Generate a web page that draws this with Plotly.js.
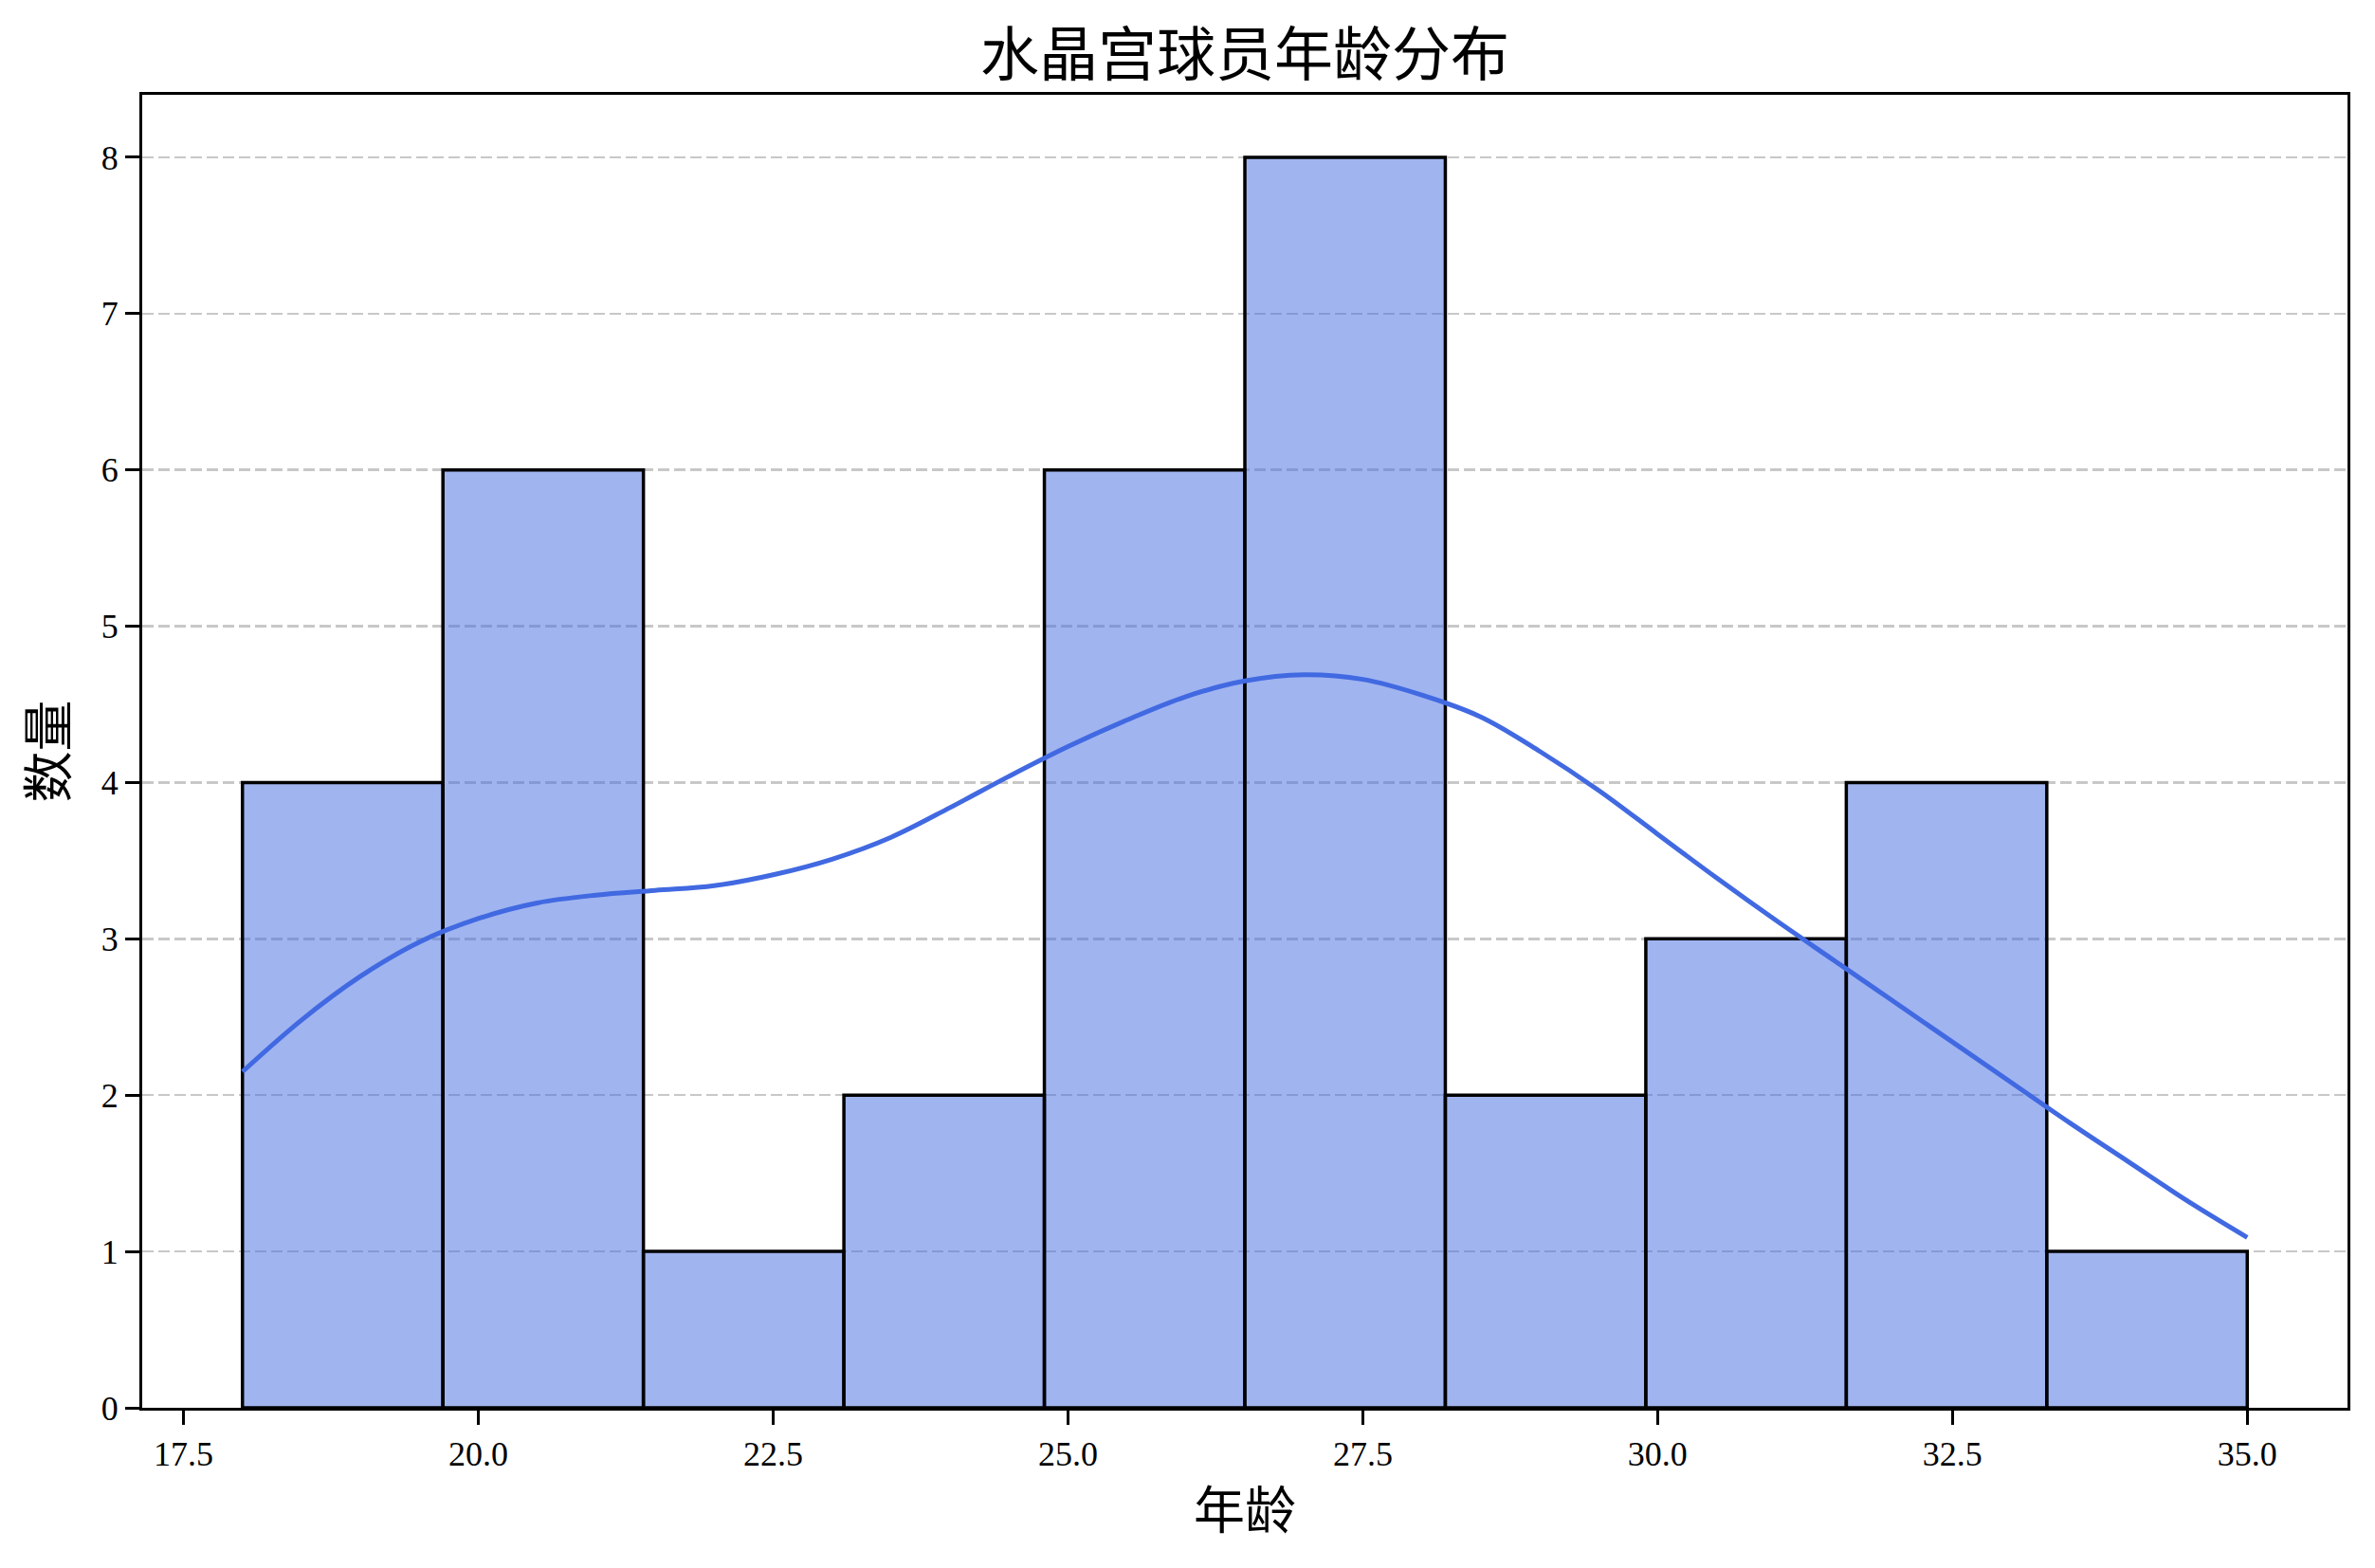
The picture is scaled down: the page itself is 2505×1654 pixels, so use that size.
<!DOCTYPE html>
<html>
<head>
<meta charset="utf-8">
<script src="https://cdn.plot.ly/plotly-3.0.1.min.js"></script>
<style>html,body{margin:0;padding:0;background:#fff;}#chart{width:2505px;height:1654px;}</style>
</head>
<body>
<div id="chart"></div>
<script>
// Histogram: 10 bins from 18 to 35
const binStart = 18;
const binEnd = 35;
const binCount = 10;
const counts = [4, 6, 1, 2, 6, 8, 2, 3, 4, 1];

// KDE curve
const kdeX = [18, 18.5, 19, 19.5, 20, 20.5, 21, 21.5, 22, 22.5, 23, 23.5, 24, 24.5, 25, 25.5, 26, 26.5, 27, 27.5, 28, 28.5, 29, 29.5, 30, 30.5, 31, 31.5, 32, 32.5, 33, 33.5, 34, 34.5, 35];
const kdeY = [2.15, 2.48, 2.76, 2.98, 3.13, 3.23, 3.28, 3.31, 3.34, 3.41, 3.51, 3.65, 3.84, 4.04, 4.23, 4.40, 4.55, 4.65, 4.69, 4.66, 4.56, 4.42, 4.20, 3.95, 3.67, 3.39, 3.12, 2.86, 2.60, 2.34, 2.08, 1.82, 1.57, 1.32, 1.09];

const xTicks = [17.5, 20.0, 22.5, 25.0, 27.5, 30.0, 32.5, 35.0];
const yTicks = [0, 1, 2, 3, 4, 5, 6, 7, 8];

const titleText = '水晶宫球员年龄分布';
const xLabel = '年龄';
const yLabel = '数量';

const binWidth = (binEnd - binStart) / binCount;
const centers = counts.map((c, i) => binStart + binWidth * (i + 0.5));

const serif = '"Liberation Serif", "Noto Sans CJK SC", serif';

const traces = [
  {
    type: 'bar',
    x: centers,
    y: counts,
    width: binWidth,
    marker: {color: 'rgba(65,105,225,0.5)', line: {color: '#000', width: 3.5}},
    hoverinfo: 'x+y',
    showlegend: false
  },
  {
    type: 'scatter',
    mode: 'lines',
    x: kdeX,
    y: kdeY,
    line: {color: '#4169E1', width: 5, shape: 'spline', smoothing: 1},
    showlegend: false
  }
];

const layout = {
  width: 2505,
  height: 1654,
  paper_bgcolor: '#fff',
  plot_bgcolor: '#fff',
  margin: {l: 150, r: 29, t: 100, b: 169},
  font: {family: serif, color: '#000', size: 36},
  bargap: 0,
  title: {
    text: titleText,
    font: {family: serif, size: 62, color: '#000'},
    x: 0.5, xref: 'paper', xanchor: 'center',
    y: 0.965, yref: 'container', yanchor: 'middle'
  },
  xaxis: {
    range: [17.15, 35.85],
    tickvals: xTicks,
    ticktext: xTicks.map(v => v.toFixed(1)),
    ticks: 'outside', ticklen: 15, tickwidth: 3, tickcolor: '#000',
    showline: true, linecolor: '#000', linewidth: 3, mirror: true,
    showgrid: false, zeroline: false,
    tickfont: {family: serif, size: 36, color: '#000'},
    title: {text: xLabel, font: {family: serif, size: 54, color: '#000'}, standoff: 22}
  },
  yaxis: {
    range: [0, 8.4],
    tickvals: yTicks,
    ticks: 'outside', ticklen: 15, tickwidth: 3, tickcolor: '#000',
    showline: true, linecolor: '#000', linewidth: 3, mirror: true,
    showgrid: true, gridcolor: '#c8c8c8', gridwidth: 2.5, griddash: '12px,5px',
    zeroline: false,
    tickfont: {family: serif, size: 36, color: '#000'},
    title: {text: yLabel, font: {family: serif, size: 54, color: '#000'}, standoff: 18}
  }
};

Plotly.newPlot('chart', traces, layout, {displayModeBar: false, staticPlot: true});
</script>
</body>
</html>
